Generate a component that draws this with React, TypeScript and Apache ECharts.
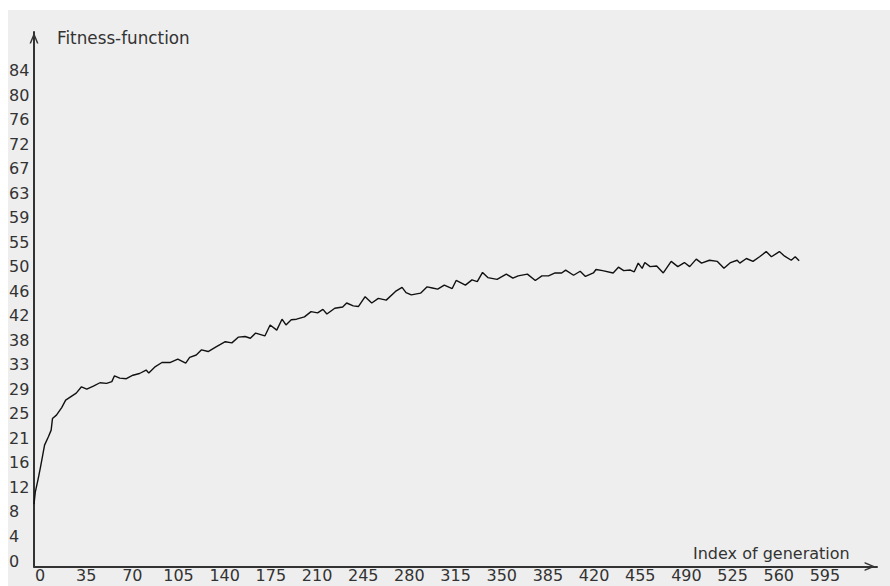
import React, { useEffect, useRef } from "react";
import * as echarts from "echarts";

const generations: number[] = [
  0, 1, 3, 5, 8, 11, 13, 14, 17, 21, 24, 28, 32, 36, 40, 45, 50, 55, 59, 61,
  65, 70, 75, 80, 85, 87, 92, 97, 103, 109, 115, 118, 123, 127, 132, 138, 145, 150, 155, 160,
  164, 168, 175, 179, 184, 188, 191, 195, 199, 205, 210, 215, 219, 222, 228, 234, 237, 242, 246, 251,
  256, 261, 267, 274, 279, 282, 286, 293, 298, 302, 306, 311, 317, 320, 327, 332, 336, 340, 344, 351,
  358, 363, 367, 374, 380, 385, 390, 395, 400, 403, 409, 414, 418, 424, 426, 431, 439, 443, 447, 452,
  455, 458, 461, 463, 467, 472, 477, 483, 488, 493, 497, 502, 506, 512, 518, 523, 528, 533, 535, 540,
  545, 550, 555, 559, 565, 569, 574, 577, 580,
];

const fitness: number[] = [
  10.8, 12.9, 15.0, 17.3, 21.0, 22.5, 23.6, 25.6, 26.2, 27.5, 28.8, 29.4, 30.0, 31.1, 30.7, 31.2, 31.8, 31.7, 32.0, 33.0,
  32.6, 32.5, 33.1, 33.4, 34.0, 33.5, 34.6, 35.3, 35.3, 35.9, 35.2, 36.2, 36.6, 37.5, 37.2, 38.0, 38.9, 38.7, 39.7, 39.8,
  39.5, 40.4, 39.9, 41.8, 40.9, 42.8, 41.8, 42.7, 42.8, 43.2, 44.1, 43.9, 44.5, 43.7, 44.7, 44.9, 45.6, 45.1, 45.0, 46.7,
  45.6, 46.4, 46.1, 47.6, 48.3, 47.4, 47.0, 47.3, 48.4, 48.2, 48.0, 48.7, 48.1, 49.5, 48.7, 49.6, 49.3, 50.9, 50.0, 49.7,
  50.6, 49.9, 50.3, 50.6, 49.5, 50.3, 50.3, 50.8, 50.8, 51.3, 50.4, 51.1, 50.2, 50.8, 51.4, 51.2, 50.8, 51.8, 51.2, 51.3,
  51.0, 52.5, 51.6, 52.6, 51.9, 52.0, 50.8, 52.8, 51.9, 52.6, 51.9, 53.2, 52.5, 53.0, 52.8, 51.6, 52.6, 53.0, 52.5, 53.3,
  52.8, 53.6, 54.5, 53.6, 54.5, 53.7, 53.0, 53.6, 52.9,
];

const xTickStep = 35;
const xLastLabel = 595;
const yTickStep = 4.24;
const yLastLabel = 84.8;

const yAxisTitle = "Fitness-function";
const xAxisTitle = "Index of generation";

const FONT = "DejaVu Sans";
const TEXT = "#333333";
const arrowPath = "path://M5,0 L10,12 L8.3,12 L5,4 L1.7,12 L0,12 Z";

export default function App() {
  const ref = useRef<HTMLDivElement>(null);

  useEffect(() => {
    if (!ref.current) return;
    const chart = echarts.init(ref.current, undefined, { renderer: "svg" });
    chart.setOption({
      animation: false,
      backgroundColor: "transparent",
      grid: { left: 26, top: 22, right: 13, bottom: 19.5, containLabel: false, outerBoundsMode: "none" },
      xAxis: {
        type: "value",
        min: 0,
        max: 639,
        interval: xTickStep,
        splitLine: { show: false },
        axisTick: { show: false },
        axisLine: {
          show: true,
          lineStyle: { color: "#333", width: 2 },
          symbol: ["none", arrowPath],
          symbolSize: [9, 14],
          symbolOffset: [0, -7],
        },
        axisLabel: {
          color: TEXT,
          fontFamily: FONT,
          fontSize: 16,
          lineHeight: 12,
          verticalAlign: "top",
          margin: 3,
          padding: [0, 0, 0, 12],
          showMaxLabel: true,
          formatter: (v: number) => (v <= xLastLabel + 0.001 ? String(Math.round(v)) : ""),
        },
      },
      yAxis: {
        type: "value",
        min: 0,
        max: 92.5,
        interval: yTickStep,
        splitLine: { show: false },
        axisTick: { show: false },
        axisLine: {
          show: true,
          lineStyle: { color: "#333", width: 2 },
          symbol: ["none", arrowPath],
          symbolSize: [9, 12],
          symbolOffset: [0, -6],
        },
        axisLabel: {
          color: TEXT,
          fontFamily: FONT,
          fontSize: 16,
          align: "left",
          verticalAlign: "bottom",
          lineHeight: 11,
          margin: 25,
          showMaxLabel: true,
          formatter: (v: number) => (v <= yLastLabel + 0.001 ? String(Math.floor(v + 1e-9)) : ""),
        },
      },
      graphic: [
        {
          type: "text",
          x: 49,
          y: 28,
          style: {
            text: yAxisTitle,
            fill: TEXT,
            font: `16.8px "${FONT}"`,
            textAlign: "left",
            textVerticalAlign: "middle",
          },
        },
        {
          type: "text",
          x: 685,
          y: 543.5,
          style: {
            text: xAxisTitle,
            fill: TEXT,
            font: `16px "${FONT}"`,
            textAlign: "left",
            textVerticalAlign: "middle",
          },
        },
      ],
      series: [
        {
          type: "line",
          data: generations.map((g, i) => [g, fitness[i]]),
          showSymbol: false,
          symbol: "none",
          lineStyle: { color: "#111", width: 1.4 },
          silent: true,
        },
      ],
    });
    return () => chart.dispose();
  }, []);

  return (
    <div style={{ position: "absolute", left: 0, top: 0, width: 890, height: 586, background: "#ffffff" }}>
      <div
        ref={ref}
        style={{ position: "absolute", left: 8, top: 10, width: 882, height: 576, background: "#eeeeee" }}
      />
    </div>
  );
}
